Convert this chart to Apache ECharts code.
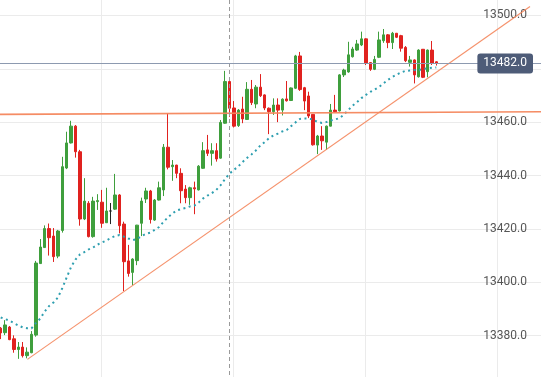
<!DOCTYPE html>
<html>
<head>
<meta charset="utf-8">
<script src="https://cdn.jsdelivr.net/npm/echarts@6/dist/echarts.min.js"></script>
<style>
  html, body { margin: 0; padding: 0; background: #fff; }
  #chart { width: 541px; height: 377px; }
</style>
</head>
<body>
<div id="chart"></div>
<script>
// candle values, one entry per bar (index = bar number)
const opens = [
  13382.8, 13381.1, 13383.2, 13378.8, 13374.8, 13375.7, 13372.5, 13373.6, 13380.2, 13407.0,
  13413.0, 13420.1, 13417.3, 13409.8, 13419.4, 13442.8, 13452.2, 13458.5, 13448.9, 13423.7,
  13429.6, 13417.1, 13430.2, 13430.0, 13422.3, 13426.7, 13427.4, 13432.7, 13421.8, 13408.0,
  13403.7, 13408.1, 13422.1, 13431.2, 13434.2, 13423.3, 13430.8, 13434.6, 13450.6, 13443.3,
  13443.9, 13440.8, 13434.9, 13431.7, 13435.4, 13434.6, 13442.7, 13449.6, 13448.3, 13449.3,
  13446.5, 13459.6, 13475.2, 13465.3, 13458.7, 13464.9, 13461.0, 13472.3, 13466.8, 13473.1,
  13470.2, 13465.2, 13463.9, 13466.4, 13464.5, 13468.7, 13468.1, 13472.7, 13484.8, 13472.9,
  13469.8, 13462.9, 13451.4, 13454.8, 13452.5, 13458.5, 13464.5, 13464.2, 13477.7, 13478.8,
  13484.5, 13487.0, 13488.9, 13491.2, 13482.3, 13479.8, 13484.3, 13490.5, 13492.7, 13489.8,
  13493.3, 13492.4, 13488.0, 13482.4, 13483.3, 13477.0, 13487.3, 13478.9, 13487.0, 13482.6
]
const closes = [
  13381.0, 13384.0, 13378.5, 13374.8, 13375.7, 13372.5, 13373.8, 13380.5, 13407.2, 13413.2,
  13420.1, 13416.7, 13409.6, 13419.2, 13443.3, 13452.2, 13458.5, 13448.9, 13423.7, 13430.4,
  13417.1, 13430.4, 13430.6, 13422.1, 13426.7, 13426.7, 13432.7, 13421.2, 13407.7, 13403.3,
  13408.7, 13421.4, 13430.4, 13434.2, 13423.5, 13430.8, 13435.4, 13450.6, 13443.1, 13443.9,
  13440.8, 13434.3, 13431.7, 13435.4, 13435.0, 13443.5, 13449.3, 13448.3, 13449.3, 13446.2,
  13459.9, 13475.2, 13465.2, 13458.5, 13464.5, 13461.2, 13472.3, 13467.3, 13473.1, 13469.9,
  13465.3, 13463.9, 13466.4, 13464.5, 13468.6, 13468.0, 13472.8, 13484.8, 13472.2, 13467.9,
  13462.3, 13451.5, 13454.8, 13453.0, 13458.5, 13464.5, 13463.9, 13477.7, 13479.5, 13485.2,
  13487.4, 13489.3, 13491.2, 13482.2, 13479.8, 13483.5, 13490.8, 13492.7, 13489.8, 13493.3,
  13491.8, 13487.7, 13483.0, 13483.3, 13477.7, 13487.0, 13476.8, 13487.0, 13482.0, 13482.0
]
const lows = [
  13378.7, 13380.2, 13378.3, 13373.6, 13371.3, 13371.8, 13371.5, 13373.4, 13379.6, 13406.9,
  13412.9, 13410.0, 13407.6, 13409.0, 13418.6, 13442.4, 13452.0, 13446.7, 13421.2, 13423.3,
  13416.8, 13416.7, 13427.1, 13420.4, 13422.2, 13421.8, 13427.1, 13418.3, 13396.7, 13402.1,
  13398.9, 13406.4, 13417.3, 13429.7, 13422.0, 13423.0, 13430.6, 13432.3, 13442.3, 13438.0,
  13439.0, 13429.6, 13429.6, 13429.0, 13425.5, 13434.4, 13442.5, 13447.3, 13443.7, 13445.2,
  13446.3, 13459.4, 13462.0, 13458.0, 13458.2, 13459.6, 13460.8, 13466.4, 13465.2, 13469.4,
  13464.5, 13455.5, 13462.7, 13460.0, 13462.5, 13467.7, 13467.9, 13472.4, 13471.7, 13464.5,
  13461.5, 13451.2, 13448.0, 13449.6, 13449.6, 13458.4, 13463.6, 13464.0, 13476.9, 13478.5,
  13484.2, 13486.7, 13488.5, 13481.4, 13479.2, 13479.5, 13484.0, 13489.7, 13487.7, 13487.4,
  13491.5, 13486.4, 13482.5, 13480.8, 13474.5, 13476.7, 13476.5, 13476.8, 13481.4, 13481.2
]
const highs = [
  13383.2, 13385.8, 13383.6, 13380.1, 13377.6, 13377.6, 13375.6, 13381.7, 13408.0, 13416.2,
  13421.3, 13422.0, 13420.3, 13419.6, 13447.0, 13456.4, 13460.5, 13458.9, 13449.6, 13439.0,
  13430.4, 13432.0, 13433.0, 13434.6, 13435.4, 13429.7, 13440.6, 13433.0, 13422.7, 13414.0,
  13409.0, 13421.5, 13431.7, 13435.4, 13434.6, 13431.2, 13437.7, 13451.8, 13463.3, 13445.8,
  13444.0, 13442.7, 13436.4, 13435.8, 13437.7, 13443.9, 13452.5, 13455.2, 13452.1, 13452.1,
  13460.8, 13479.2, 13475.4, 13467.9, 13464.9, 13469.5, 13475.0, 13475.8, 13473.9, 13478.0,
  13470.4, 13465.5, 13468.9, 13468.9, 13468.9, 13475.4, 13473.0, 13485.2, 13486.3, 13473.2,
  13471.4, 13463.0, 13455.2, 13458.5, 13458.7, 13466.8, 13470.2, 13478.0, 13480.0, 13490.1,
  13488.2, 13490.8, 13493.9, 13491.4, 13482.5, 13484.8, 13493.9, 13494.9, 13493.0, 13493.8,
  13493.4, 13492.7, 13488.5, 13484.8, 13483.5, 13487.3, 13487.4, 13487.2, 13490.4, 13482.8
]
// dotted moving average, one value per bar
const maValues = [
  13386.8, 13386.2, 13385.6, 13384.7, 13383.8, 13383.1, 13382.8, 13382.7, 13384.7, 13386.4,
  13389.0, 13391.1, 13392.4, 13394.3, 13397.8, 13401.8, 13405.7, 13408.5, 13410.4, 13411.3,
  13412.3, 13413.0, 13414.1, 13414.9, 13415.6, 13416.6, 13417.3, 13417.7, 13417.1, 13416.4,
  13415.8, 13416.2, 13417.3, 13418.1, 13418.6, 13419.6, 13420.7, 13422.6, 13424.3, 13425.7,
  13426.9, 13427.4, 13427.8, 13428.4, 13428.7, 13429.9, 13431.4, 13432.5, 13433.4, 13434.6,
  13436.4, 13438.7, 13440.7, 13442.1, 13443.4, 13445.1, 13446.6, 13447.9, 13449.4, 13451.2,
  13452.5, 13454.0, 13455.0, 13455.7, 13456.5, 13457.0, 13458.5, 13459.9, 13461.2, 13461.4,
  13461.3, 13461.0, 13460.0, 13459.7, 13460.0, 13460.6, 13461.0, 13461.5, 13462.8, 13464.5,
  13466.2, 13467.5, 13469.0, 13470.2, 13471.3, 13472.2, 13473.2, 13474.5, 13475.8, 13476.9,
  13477.8, 13478.6, 13479.2, 13479.3, 13479.5, 13479.5, 13479.9, 13480.2, 13480.4, 13480.5
]
// drawn trend lines, [bar, price] endpoints
const resistanceLine = [[-7.2, 13462.85], [122.8, 13463.9]]
const supportLine = [[6.07, 13371.1], [120.3, 13503.3]]
const lastPrice = 13482.0
const crosshairBar = 52

const upColor = '#3f9f3d'
const downColor = '#e0221f'
const dojiColor = '#222222'
const orange = '#f4865c'

const candleData = opens.map((o, i) => {
  const value = [i, o, closes[i], lows[i], highs[i]]
  if (o !== closes[i]) return value
  return {
    value,
    itemStyle: { color: dojiColor, color0: dojiColor, borderColor: dojiColor, borderColor0: dojiColor },
  }
})
const maData = maValues.map((v, i) => [i, v])

const chart = echarts.init(document.getElementById('chart'), null, { renderer: 'canvas' })

chart.setOption({
  animation: false,
  backgroundColor: '#fff',
  grid: {
    left: -31,
    right: 0,
    top: -38,
    bottom: -12,
    containLabel: false,
    outerBoundsMode: 'none',
  },
  xAxis: {
    type: 'value',
    min: -7.2,
    max: 122.8,
    interval: 30,
    axisLine: { show: false },
    axisTick: { show: false },
    axisLabel: { show: false },
    splitLine: { show: true, lineStyle: { color: '#ebebeb', width: 1 } },
  },
  yAxis: {
    type: 'value',
    position: 'right',
    min: 13360,
    max: 13520,
    interval: 20,
    axisLine: { show: false },
    axisTick: { show: false },
    axisLabel: {
      inside: true,
      margin: 14,
      color: '#555',
      fontSize: 12,
      fontFamily: 'Roboto',
      formatter: v => v.toFixed(1),
    },
    splitLine: { show: true, lineStyle: { color: '#ebebeb', width: 1 } },
  },
  series: [
    {
      type: 'candlestick',
      data: candleData,
      barWidth: 3,
      itemStyle: {
        color: upColor,
        color0: downColor,
        borderColor: upColor,
        borderColor0: downColor,
        borderWidth: 1,
      },
      markLine: {
        silent: true,
        symbol: ['none', 'none'],
        animation: false,
        label: { show: false },
        data: [
          [
            { coord: resistanceLine[0], lineStyle: { color: orange, width: 1.6, type: 'solid', opacity: 0.95 } },
            { coord: resistanceLine[1] },
          ],
          [
            { coord: supportLine[0], lineStyle: { color: orange, width: 1.2, type: 'solid', opacity: 0.9 } },
            { coord: supportLine[1] },
          ],
          {
            xAxis: crosshairBar,
            lineStyle: { color: '#9a9a9a', width: 1, type: [4, 3] },
          },
          {
            yAxis: lastPrice,
            lineStyle: { color: '#8d9ab0', width: 1, type: 'solid' },
            label: {
              show: true,
              position: 'insideEnd',
              distance: 8,
              formatter: () => lastPrice.toFixed(1),
              backgroundColor: '#4e5c78',
              color: '#fff',
              padding: [4, 6],
              borderRadius: 3,
              fontSize: 12,
              fontFamily: 'Roboto',
            },
          },
        ],
      },
    },
    {
      type: 'line',
      data: maData,
      showSymbol: false,
      symbol: 'none',
      silent: true,
      z: 3,
      lineStyle: { color: '#2f9fb0', width: 2, type: [2, 3.5] },
    },
  ],
})
</script>
</body>
</html>
